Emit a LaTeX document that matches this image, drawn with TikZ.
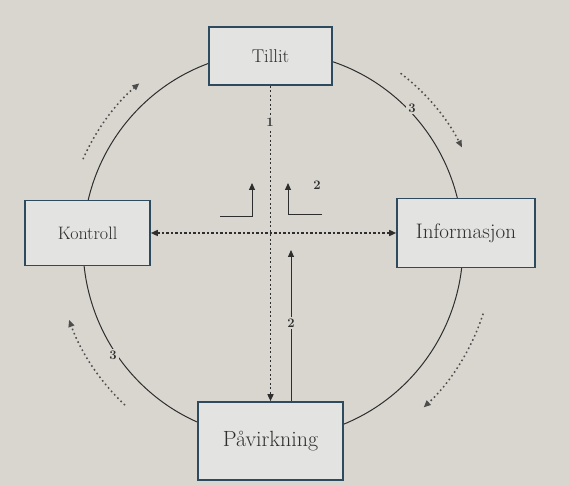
\documentclass[tikz,border=0pt]{standalone}
\usepackage{fontspec}
\usepackage{xcolor}
\usetikzlibrary{arrows.meta,calc}
\definecolor{pagegrey}{HTML}{D9D6CF}
\definecolor{boxfill}{HTML}{E3E4E1}
\definecolor{boxblue}{HTML}{2E4A5E}
\definecolor{inkgrey}{HTML}{2E2E2E}
\tikzset{
  boxnode/.style={draw=boxblue, fill=boxfill, line width=1.6pt, align=center, text=inkgrey, inner sep=0pt},
  ringline/.style={line width=1pt, draw=inkgrey},
  dashededge/.style={-{Triangle[length=7pt,width=6pt]}, line width=1.5pt, draw=inkgrey, dash pattern=on 2.2pt off 2.3pt},
  cycleedge/.style={-{Triangle[length=7pt,width=6pt]}, line width=1.5pt, draw=inkgrey!85, dash pattern=on 1.6pt off 3pt},
  strongedge/.style={-{Triangle[length=7pt,width=6pt]}, line width=1pt, draw=inkgrey},
  numlabel/.style={font=\fontsize{13}{13}\selectfont\bfseries, text=inkgrey, fill=pagegrey, inner sep=2pt}
}

\begin{document}
\begin{tikzpicture}[x=1pt,y=1pt]
  \fill[pagegrey] (0,0) rectangle (569,486);
  \useasboundingbox (0,0) rectangle (569,486);
  % ring
  \coordinate (hub) at (273,241);
  \draw[ringline] (hub) ellipse [x radius=190, y radius=193];
  % the four boxes
  \node[boxnode, minimum width=123pt, minimum height=58pt, font=\fontsize{18.5}{18.5}\selectfont] (tillit) at (270.5,430) {Tillit};
  \node[boxnode, minimum width=125pt, minimum height=65pt, font=\fontsize{18}{18}\selectfont] (kontroll) at (87.5,253) {Kontroll};
  \node[boxnode, minimum width=138pt, minimum height=69pt, font=\fontsize{21}{21}\selectfont] (informasjon) at (466,253) {Informasjon};
  \node[boxnode, minimum width=145pt, minimum height=78pt, font=\fontsize{22}{22}\selectfont] (paavirkning) at (270.5,45) {Påvirkning};
  % cross
  \draw[dashededge] (tillit.south) -- (tillit.south |- paavirkning.north);
  \draw[dashededge, {Triangle[length=7pt,width=6pt]}-{Triangle[length=7pt,width=6pt]}] (kontroll.east) -- (informasjon.west);
  \coordinate (risetip) at (291,236);
  \draw[strongedge] (paavirkning.north -| risetip) -- (risetip);
  % small turning arrows
  \coordinate (lfoot) at (220,269);
  \coordinate (ltip) at (252,303);
  \coordinate (rfoot) at (322,271);
  \coordinate (rtip) at (288,303);
  \draw[strongedge] (lfoot) -| (ltip);
  \draw[strongedge] (rfoot) -| (rtip);
  % outer cycle
  \draw[cycleedge] ($(hub)+(156:208 and 211)$) arc[start angle=156, end angle=130, x radius=208, y radius=211];
  \draw[cycleedge] ($(hub)+(53:212 and 215)$) arc[start angle=53, end angle=27, x radius=212, y radius=215];
  \draw[cycleedge] ($(hub)+(-18:221 and 222)$) arc[start angle=-18, end angle=-47, x radius=221, y radius=222];
  \draw[cycleedge] ($(hub)+(227:217 and 219)$) arc[start angle=227, end angle=200, x radius=217, y radius=219];
  % numbers
  \node[numlabel] (one) at (270,364) {1};
  \node[numlabel] (twoa) at (317,301) {2};
  \node[numlabel] (twob) at (291,163) {2};
  \node[numlabel] (threea) at (412,378) {3};
  \node[numlabel] (threeb) at (113,131) {3};
\end{tikzpicture}
\end{document}
